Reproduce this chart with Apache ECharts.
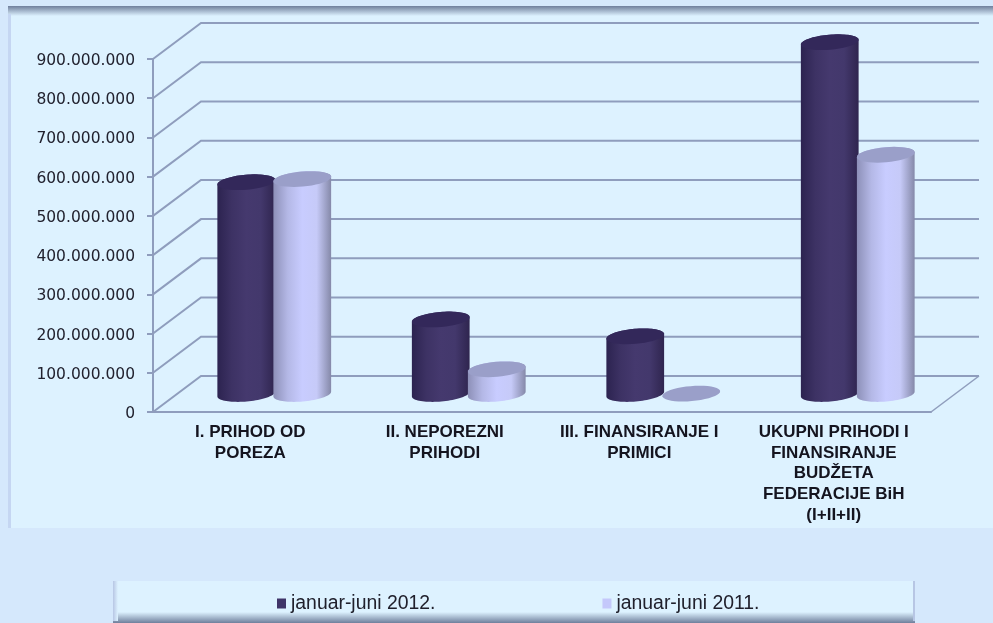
<!DOCTYPE html>
<html>
<head>
<meta charset="utf-8">
<style>
  html, body { margin: 0; padding: 0; background: #d5e8fc; }
  #chart { width: 993px; height: 623px; }
</style>
<script src="https://cdn.jsdelivr.net/npm/echarts@6/dist/echarts.min.js"></script>
</head>
<body>
<div id="chart"></div>
<script>
const categories = [
  'I. PRIHOD OD\nPOREZA',
  'II. NEPOREZNI\nPRIHODI',
  'III. FINANSIRANJE I\nPRIMICI',
  'UKUPNI PRIHODI I\nFINANSIRANJE\nBUDŽETA\nFEDERACIJE BiH\n(I+II+II)',
];
const values2012 = [540000000, 190000000, 147000000, 897000000];
const values2011 = [548000000, 63000000, 1000000, 610000000];
const yTicks = [0, 100000000, 200000000, 300000000, 400000000, 500000000, 600000000, 700000000, 800000000, 900000000];
const seriesNames = ['januar-juni 2012.', 'januar-juni 2011.'];

// the fake 3d depth of the chart box
const depthX = 48;
const depthY = 36;
const tilt = 0.087;
const lineColor = '#8f9dbd';

function formatTick(v) {
  return String(v).replace(/\B(?=(\d{3})+(?!\d))/g, '.');
}

function arc(cx, cy, rx, ry, from, to) {
  const pts = [];
  for (let i = 0; i <= 40; i++) {
    const t = from + (to - from) * i / 40;
    const u = rx * Math.cos(t);
    const v = ry * Math.sin(t);
    pts.push([cx + u * Math.cos(tilt) + v * Math.sin(tilt), cy - u * Math.sin(tilt) + v * Math.cos(tilt)]);
  }
  return pts;
}

function bodyGradient(stops) {
  return {
    type: 'linear', x: 0, y: 0, x2: 1, y2: 0,
    colorStops: stops.map((c, i) => ({ offset: i / (stops.length - 1), color: c })),
  };
}

function cylinderSeries(name, values, side, color, stops, topColor) {
  return {
    type: 'custom',
    name: name,
    z: 3,
    itemStyle: { color: color },
    data: values.map((v, i) => [i, v]),
    encode: { x: 0, y: 1 },
    renderItem(params, api) {
      const base = api.coord([api.value(0), 0]);
      const top = api.coord([api.value(0), api.value(1)]);
      const band = api.size([1, 0])[0];
      const rx = band * 0.149;
      const ry = 7.5;
      const cx = base[0] + depthX / 2 + side * band * 0.144;
      const baseY = base[1] - depthY / 2;
      const topY = top[1] - depthY / 2;
      const children = [];
      if (baseY - topY > 2) {
        children.push({
          type: 'polygon',
          shape: { points: arc(cx, baseY, rx, ry, 0, Math.PI).concat(arc(cx, topY, rx, ry, Math.PI, Math.PI * 2)) },
          style: { fill: bodyGradient(stops) },
        });
      }
      children.push({
        type: 'polygon',
        shape: { points: arc(cx, topY, rx, ry, 0, Math.PI * 2) },
        style: { fill: topColor },
      });
      return { type: 'group', children: children };
    },
  };
}

const wallSeries = {
  type: 'custom',
  silent: true,
  z: 1,
  data: yTicks.map((v) => [0, v]),
  encode: { y: 1 },
  renderItem(params, api) {
    const y = api.coord([0, api.value(1)])[1];
    const sys = params.coordSys;
    const pts = [[sys.x, y], [sys.x + depthX, y - depthY], [sys.x + sys.width + depthX, y - depthY]];
    const children = [{
      type: 'polyline',
      shape: { points: pts },
      style: { stroke: lineColor, lineWidth: 2, fill: 'none' },
    }];
    if (api.value(1) === 0) {
      children.push({
        type: 'line',
        shape: { x1: sys.x + sys.width, y1: y, x2: sys.x + sys.width + depthX, y2: y - depthY },
        style: { stroke: lineColor, lineWidth: 1.5 },
      });
    }
    return { type: 'group', children: children };
  },
};

const chart = echarts.init(document.getElementById('chart'));
chart.setOption({
  animation: false,
  backgroundColor: '#d5e8fc',
  graphic: [
    { type: 'rect', z: -10, shape: { x: 8, y: 6, width: 985, height: 522 }, style: { fill: '#ddf2ff' } },
    {
      type: 'rect', z: -9, shape: { x: 8, y: 6, width: 985, height: 10 },
      style: { fill: { type: 'linear', x: 0, y: 0, x2: 0, y2: 1, colorStops: [{ offset: 0, color: '#6f7f9c' }, { offset: 1, color: '#ddf2ff' }] } },
    },
    { type: 'rect', z: -9, shape: { x: 8, y: 14, width: 3, height: 514 }, style: { fill: '#c5d6f2' } },
    { type: 'rect', z: -10, shape: { x: 113, y: 581, width: 802, height: 42 }, style: { fill: '#ddf2ff' } },
    {
      type: 'rect', z: -9, shape: { x: 113, y: 612, width: 802, height: 11 },
      style: { fill: { type: 'linear', x: 0, y: 0, x2: 0, y2: 1, colorStops: [{ offset: 0, color: '#ddf2ff' }, { offset: 1, color: '#6f7f9c' }] } },
    },
    {
      type: 'rect', z: -9, shape: { x: 113, y: 581, width: 5, height: 40 },
      style: { fill: { type: 'linear', x: 0, y: 0, x2: 1, y2: 0, colorStops: [{ offset: 0, color: '#b7c6e4' }, { offset: 1, color: '#ddf2ff' }] } },
    },
    { type: 'rect', z: -9, shape: { x: 913, y: 581, width: 2, height: 40 }, style: { fill: '#b7c6e4' } },
  ],
  grid: { left: 153, right: 62, top: 59, bottom: 211, containLabel: false },
  legend: {
    left: 277,
    top: 594,
    padding: 0,
    itemWidth: 9,
    itemHeight: 10,
    itemGap: 167,
    icon: 'rect',
    textStyle: { fontFamily: 'Liberation Sans', fontSize: 19.4, color: '#20202c' },
    data: seriesNames,
  },
  xAxis: {
    type: 'category',
    data: categories,
    axisLine: { lineStyle: { color: lineColor, width: 2 } },
    axisTick: { length: 5, lineStyle: { color: lineColor, width: 2 } },
    axisLabel: {
      margin: 10,
      interval: 0,
      fontFamily: 'Liberation Sans',
      fontWeight: 'bold',
      fontSize: 17,
      lineHeight: 20.7,
      color: '#14141f',
      align: 'center',
    },
  },
  yAxis: {
    type: 'value',
    min: 0,
    max: 900000000,
    interval: 100000000,
    splitLine: { show: false },
    axisLine: { show: true, lineStyle: { color: lineColor, width: 2 } },
    axisTick: { show: true, length: 6, lineStyle: { color: lineColor, width: 2 } },
    axisLabel: {
      margin: 18,
      verticalAlign: 'top',
      lineHeight: 4,
      fontFamily: 'DejaVu Sans',
      fontSize: 15.5,
      color: '#22222f',
      formatter: formatTick,
    },
  },
  series: [
    wallSeries,
    cylinderSeries(seriesNames[0], values2012, -1, '#3f3468',
      ['#2c2350', '#3d3264', '#45396e', '#43386c', '#2f254f'], '#33285a'),
    cylinderSeries(seriesNames[1], values2011, 1, '#c4c8fb',
      ['#8d90b8', '#b4b8e6', '#c8ccff', '#c6caf8', '#8589a9'], '#9a9fc9'),
  ],
});
</script>
</body>
</html>
